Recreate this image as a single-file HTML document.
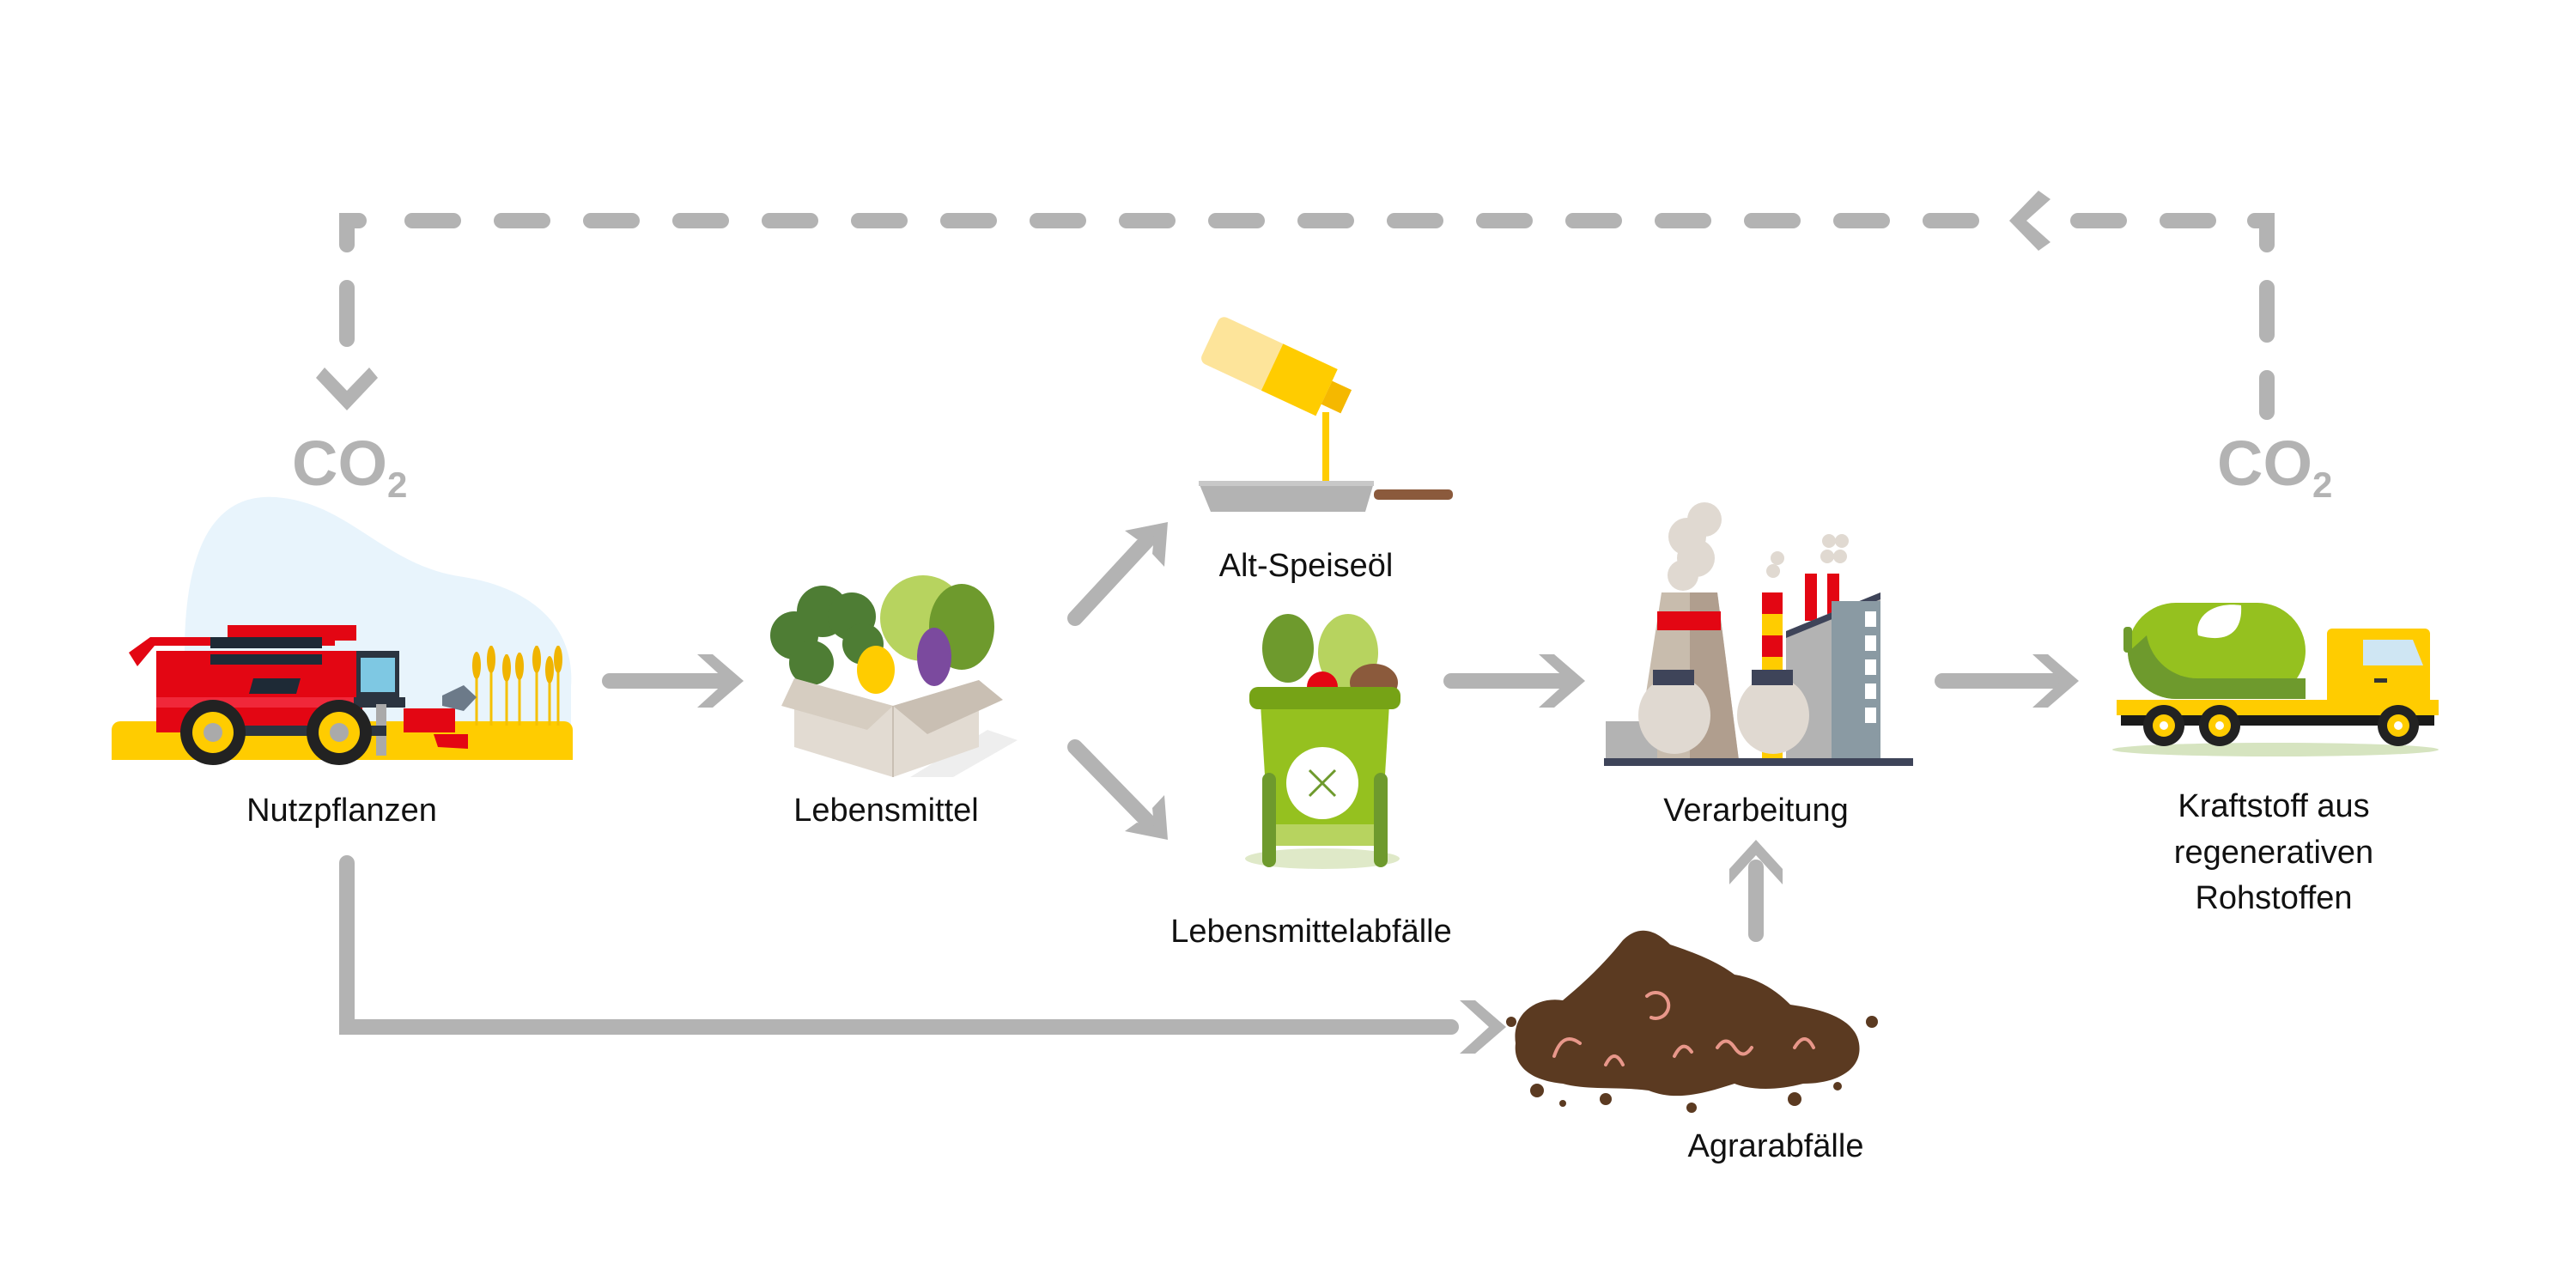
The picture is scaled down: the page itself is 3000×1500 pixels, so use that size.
<!DOCTYPE html>
<html><head><meta charset="utf-8"><style>
html,body{margin:0;padding:0;background:#fff;width:3000px;height:1500px;overflow:hidden}
svg{display:block}
text{font-family:"Liberation Sans",sans-serif}
</style></head><body>
<svg width="3000" height="1500" viewBox="0 0 3000 1500" xmlns="http://www.w3.org/2000/svg">
<g stroke="#b3b3b3" stroke-width="18" stroke-linecap="round" fill="none">
 <path d="M404 285 L404 257 L418 257" />
 <path d="M2626 257 L2640 257 L2640 285"/>
 <line x1="480" y1="257" x2="2320" y2="257" stroke-dasharray="48 56"/>
 <line x1="2420" y1="257" x2="2590" y2="257" stroke-dasharray="48 56"/>
 <line x1="404" y1="335" x2="404" y2="395"/>
 <line x1="2640" y1="335" x2="2640" y2="390"/>
 <line x1="2640" y1="440" x2="2640" y2="480"/>
 <line x1="710" y1="793" x2="840" y2="793"/>
 <line x1="1690" y1="793" x2="1820" y2="793"/>
 <line x1="2262" y1="793" x2="2395" y2="793"/>
 <line x1="1252" y1="720" x2="1340" y2="625"/>
 <line x1="1252" y1="870" x2="1340" y2="960"/>
 <line x1="2045" y1="1088" x2="2045" y2="1010"/>
 <path d="M404 1005 L404 1196 L1690 1196"/>
</g>
<g fill="#b3b3b3">
 <polygon points="378,428 404,455 430,428 440,440 404,478 368,440"/>
 <polygon points="2388,232 2360,257 2388,282 2374,292 2340,257 2374,222"/>
 <polygon points="812,762 830,762 866,793 830,824 812,824 846,793"/>
 <polygon points="1792,762 1810,762 1846,793 1810,824 1792,824 1826,793"/>
 <polygon points="2367,762 2385,762 2421,793 2385,824 2367,824 2401,793"/>
 <polygon points="1700,1165 1718,1165 1754,1196 1718,1227 1700,1227 1734,1196"/>
 <polygon points="2014,1030 2014,1012 2045,978 2076,1012 2076,1030 2045,996"/>
 <polygon points="1310,618 1360,608 1356,660 1342,645 1344,624 1324,628"/>
 <polygon points="1310,968 1360,978 1356,926 1342,941 1344,962 1324,958"/>
</g>
<text x="340" y="565" font-size="74" font-weight="bold" fill="#b3b3b3">CO<tspan font-size="42" dy="14">2</tspan></text>
<text x="2582" y="565" font-size="74" font-weight="bold" fill="#b3b3b3">CO<tspan font-size="42" dy="14">2</tspan></text>

<!-- Harvester scene -->
<path d="M215 760 C215 620 260 570 330 580 C410 590 450 660 540 672 C620 685 670 730 665 800 L665 850 L190 850 Z" fill="#e8f4fc"/>
<rect x="130" y="840" width="537" height="45" rx="10" fill="#ffcc00"/>
<rect x="130" y="860" width="537" height="25" fill="#ffcc00"/>
<g stroke="#f5c000" stroke-width="3">
 <line x1="555" y1="760" x2="555" y2="845"/><line x1="572" y1="752" x2="572" y2="845"/><line x1="590" y1="762" x2="590" y2="845"/><line x1="605" y1="760" x2="605" y2="845"/><line x1="625" y1="752" x2="625" y2="845"/><line x1="640" y1="765" x2="640" y2="845"/><line x1="650" y1="752" x2="650" y2="845"/>
</g>
<g fill="#f0b400"><ellipse cx="555" cy="775" rx="5" ry="16"/><ellipse cx="572" cy="768" rx="5" ry="16"/><ellipse cx="590" cy="778" rx="5" ry="16"/><ellipse cx="605" cy="776" rx="5" ry="16"/><ellipse cx="625" cy="768" rx="5" ry="16"/><ellipse cx="640" cy="780" rx="5" ry="16"/><ellipse cx="650" cy="768" rx="5" ry="16"/></g>
<polygon points="150,760 175,742 390,742 390,752 180,752 160,776" fill="#e30613"/>
<rect x="265" y="728" width="150" height="18" fill="#e30613"/>
<rect x="182" y="758" width="240" height="95" fill="#e30613"/>
<rect x="245" y="742" width="130" height="13" fill="#1e2a36"/>
<rect x="245" y="762" width="130" height="12" fill="#1e2a36"/>
<polygon points="295,790 350,790 345,808 290,808" fill="#1e2a36"/>
<rect x="182" y="812" width="240" height="12" fill="#f0283a"/>
<rect x="415" y="758" width="50" height="55" fill="#2b3440"/>
<rect x="420" y="766" width="40" height="40" fill="#7ec8e3"/>
<rect x="412" y="812" width="60" height="12" fill="#2b3440"/>
<rect x="470" y="825" width="60" height="28" fill="#e30613"/>
<polygon points="515,810 540,798 555,812 540,828 515,822" fill="#6c7a89"/>
<rect x="438" y="820" width="12" height="60" fill="#aaa"/>
<rect x="250" y="845" width="200" height="12" fill="#2b3440"/>
<polygon points="505,855 545,855 545,872 510,870" fill="#e30613"/>
<g><circle cx="248" cy="853" r="38" fill="#222"/><circle cx="248" cy="853" r="24" fill="#ffcc00"/><circle cx="248" cy="853" r="11" fill="#aaa"/>
<circle cx="395" cy="853" r="38" fill="#222"/><circle cx="395" cy="853" r="24" fill="#ffcc00"/><circle cx="395" cy="853" r="11" fill="#aaa"/></g>
<text x="398" y="956" font-size="38" text-anchor="middle" fill="#111">Nutzpflanzen</text>

<!-- Vegetable box -->
<circle cx="1075" cy="720" r="50" fill="#b7d35f"/>
<ellipse cx="1120" cy="730" rx="38" ry="50" fill="#6e9a2d"/>
<g fill="#4e7d34"><circle cx="925" cy="740" r="28"/><circle cx="958" cy="712" r="30"/><circle cx="992" cy="718" r="28"/><circle cx="1005" cy="750" r="24"/><circle cx="945" cy="772" r="26"/></g>
<ellipse cx="1020" cy="780" rx="22" ry="28" fill="#ffcc00"/>
<ellipse cx="1088" cy="765" rx="20" ry="34" fill="#7b4a9e"/>
<polygon points="1150,850 1185,862 1110,905 1060,905" fill="#eeeeee"/>
<polygon points="925,790 1040,822 1040,905 925,870" fill="#e2dbd2"/>
<polygon points="1040,822 1140,792 1140,870 1040,905" fill="#e2dbd2"/>
<polygon points="1040,822 1140,792 1168,815 1080,855" fill="#c9bfb3"/>
<polygon points="925,790 1040,822 1010,850 910,822" fill="#d6cdc1"/>
<line x1="1040" y1="822" x2="1040" y2="905" stroke="#c9bfb3" stroke-width="2"/>
<text x="1032" y="956" font-size="38" text-anchor="middle" fill="#111">Lebensmittel</text>

<!-- Oil -->
<g transform="rotate(25 1475 430)">
<rect x="1400" y="395" width="150" height="60" rx="8" fill="#fde49a"/>
<rect x="1480" y="395" width="70" height="60" fill="#ffcc00"/>
<rect x="1550" y="410" width="25" height="30" fill="#f5b800"/>
</g>
<rect x="1540" y="480" width="8" height="90" fill="#ffcc00"/>
<ellipse cx="1545" cy="567" rx="40" ry="6" fill="#ffcc00"/>
<polygon points="1396,562 1600,562 1590,596 1410,596" fill="#b3b3b3"/>
<rect x="1396" y="560" width="204" height="6" fill="#c8c8c8"/>
<rect x="1600" y="570" width="92" height="12" rx="5" fill="#8b5a3c"/>
<text x="1521" y="671" font-size="38" text-anchor="middle" fill="#111">Alt-Speiseöl</text>

<!-- Bin -->
<ellipse cx="1500" cy="755" rx="30" ry="40" fill="#6e9a2d"/>
<ellipse cx="1570" cy="760" rx="35" ry="45" fill="#b7d35f"/>
<ellipse cx="1600" cy="795" rx="28" ry="22" fill="#8b5a3c"/>
<circle cx="1540" cy="800" r="18" fill="#e30613"/>
<ellipse cx="1540" cy="1000" rx="90" ry="12" fill="#dfe9c8"/>
<polygon points="1468,820 1618,820 1608,985 1478,985" fill="#95c11f"/>
<rect x="1478" y="960" width="130" height="25" fill="#b7d35f"/>
<rect x="1455" y="800" width="176" height="26" rx="10" fill="#76a316"/>
<rect x="1470" y="900" width="16" height="110" rx="8" fill="#6e9a2d"/>
<rect x="1600" y="900" width="16" height="110" rx="8" fill="#6e9a2d"/>
<circle cx="1540" cy="912" r="42" fill="#fff"/>
<g stroke="#6e9a2d" stroke-width="3"><line x1="1525" y1="897" x2="1555" y2="927"/><line x1="1555" y1="897" x2="1525" y2="927"/></g>
<text x="1527" y="1097" font-size="38" text-anchor="middle" fill="#111">Lebensmittelabfälle</text>

<!-- Factory -->
<g fill="#e0d9d1"><circle cx="1965" cy="625" r="22"/><circle cx="1985" cy="605" r="20"/><circle cx="1975" cy="650" r="22"/><circle cx="1960" cy="670" r="18"/><circle cx="2070" cy="650" r="8"/><circle cx="2065" cy="665" r="8"/><circle cx="2130" cy="630" r="8"/><circle cx="2145" cy="630" r="8"/><circle cx="2128" cy="648" r="8"/><circle cx="2143" cy="648" r="8"/></g>
<polygon points="1935,690 2000,690 2025,885 1905,885" fill="#c8bcad"/>
<polygon points="1968,690 2000,690 2025,885 1968,885" fill="#b09e8e"/>
<rect x="1930" y="712" width="74" height="22" fill="#e30613"/>
<rect x="2052" y="690" width="24" height="195" fill="#ffcc00"/>
<g fill="#e30613"><rect x="2052" y="690" width="24" height="25"/><rect x="2052" y="740" width="24" height="25"/><rect x="2052" y="790" width="24" height="25"/></g>
<rect x="2102" y="668" width="14" height="55" fill="#e30613"/><rect x="2128" y="668" width="14" height="55" fill="#e30613"/>
<polygon points="2080,735 2190,690 2190,885 2080,885" fill="#b3b3b3"/>
<polygon points="2080,735 2190,690 2190,698 2080,743" fill="#3e4459"/>
<rect x="2133" y="700" width="57" height="185" fill="#8a9aa3"/>
<g fill="#fff"><rect x="2172" y="712" width="13" height="18"/><rect x="2172" y="740" width="13" height="18"/><rect x="2172" y="768" width="13" height="18"/><rect x="2172" y="796" width="13" height="18"/><rect x="2172" y="824" width="13" height="18"/></g>
<rect x="1870" y="840" width="60" height="45" fill="#b3b3b3"/>
<ellipse cx="1950" cy="833" rx="42" ry="45" fill="#e0d9d1"/><rect x="1925" y="780" width="48" height="18" fill="#3e4459"/>
<ellipse cx="2065" cy="833" rx="42" ry="45" fill="#e0d9d1"/><rect x="2040" y="780" width="48" height="18" fill="#3e4459"/>
<rect x="1868" y="883" width="360" height="9" fill="#3e4459"/>
<text x="2045" y="956" font-size="38" text-anchor="middle" fill="#111">Verarbeitung</text>

<!-- Truck -->
<ellipse cx="2650" cy="873" rx="190" ry="8" fill="#d6e4c0"/>
<rect x="2478" y="702" width="207" height="112" rx="56" fill="#95c11f"/>
<path d="M2478 760 A56 56 0 0 0 2534 814 L2685 814 L2685 790 L2560 790 A60 60 0 0 1 2500 740Z" fill="#6e9a2d"/>
<path d="M2560 740 C2555 720 2575 700 2610 705 C2612 735 2595 750 2560 740Z" fill="#fff"/>
<rect x="2473" y="730" width="10" height="30" rx="4" fill="#6e9a2d"/>
<rect x="2710" y="732" width="120" height="92" rx="6" fill="#ffcc00"/>
<polygon points="2752,745 2810,745 2822,775 2752,775" fill="#cfe6f3"/>
<rect x="2765" y="790" width="15" height="5" fill="#333"/>
<rect x="2465" y="815" width="375" height="18" fill="#ffcc00"/>
<rect x="2470" y="833" width="365" height="12" fill="#1a1a1a"/>
<g><circle cx="2520" cy="845" r="24" fill="#222"/><circle cx="2520" cy="845" r="13" fill="#ffcc00"/><circle cx="2520" cy="845" r="5" fill="#fff"/>
<circle cx="2585" cy="845" r="24" fill="#222"/><circle cx="2585" cy="845" r="13" fill="#ffcc00"/><circle cx="2585" cy="845" r="5" fill="#fff"/>
<circle cx="2793" cy="845" r="24" fill="#222"/><circle cx="2793" cy="845" r="13" fill="#ffcc00"/><circle cx="2793" cy="845" r="5" fill="#fff"/></g>
<text x="2648" y="951" font-size="38" text-anchor="middle" fill="#111">Kraftstoff aus</text>
<text x="2648" y="1005" font-size="38" text-anchor="middle" fill="#111">regenerativen</text>
<text x="2648" y="1058" font-size="38" text-anchor="middle" fill="#111">Rohstoffen</text>

<!-- Soil pile -->
<path d="M1765 1215 C1760 1180 1790 1160 1820 1165 C1850 1140 1870 1120 1890 1095 C1910 1075 1930 1085 1945 1100 C1975 1110 2000 1120 2020 1135 C2050 1140 2070 1155 2085 1170 C2120 1175 2160 1185 2165 1215 C2170 1245 2140 1262 2100 1262 C2070 1270 2040 1270 2020 1262 C1980 1275 1950 1282 1920 1270 C1880 1265 1850 1270 1820 1262 C1780 1258 1762 1240 1765 1215Z" fill="#5b3a21"/>
<g fill="none" stroke="#e8978a" stroke-width="4" stroke-linecap="round">
<path d="M1918 1160 a15 15 0 1 1 5 25"/><path d="M1810 1230 q10 -30 30 -15"/><path d="M1870 1240 q10 -20 20 0"/><path d="M2000 1220 q10 -15 20 0 q10 15 20 0"/><path d="M2090 1220 q12 -20 22 0"/><path d="M1950 1230 q10 -20 20 -5"/>
</g>
<g fill="#5b3a21"><circle cx="1760" cy="1190" r="6"/><circle cx="1790" cy="1270" r="8"/><circle cx="1870" cy="1280" r="7"/><circle cx="1970" cy="1290" r="6"/><circle cx="2090" cy="1280" r="8"/><circle cx="2180" cy="1190" r="7"/><circle cx="2140" cy="1265" r="5"/><circle cx="1820" cy="1285" r="4"/></g>
<text x="2068" y="1347" font-size="38" text-anchor="middle" fill="#111">Agrarabfälle</text>
</svg>
</body></html>
